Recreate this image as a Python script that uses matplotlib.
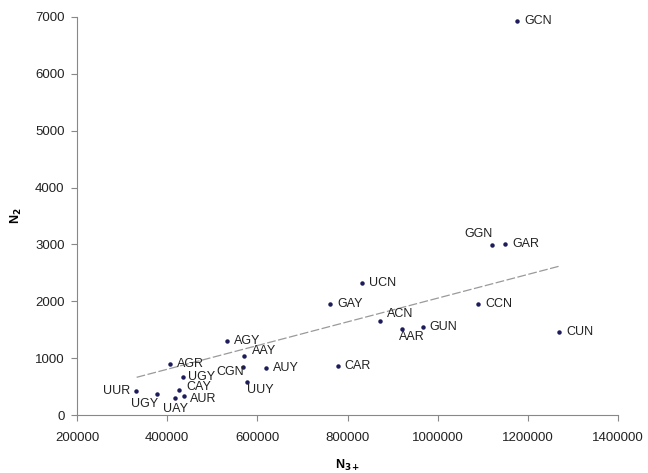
import numpy as np
import matplotlib
matplotlib.use("Agg")
import matplotlib.pyplot as plt
from matplotlib.ticker import FormatStrFormatter

plt.rcParams['font.family'] = ['Liberation Sans', 'DejaVu Sans']

# codon / N3+ / N2 values
codons = ["GCN", "GGN", "GAR", "CCN", "CUN", "UCN", "GAY", "ACN", "AAR", "GUN",
          "CAR", "AGY", "AAY", "AGR", "AUY", "UGY", "CGN", "UUY", "UUR", "UGY",
          "CAY", "UAY", "AUR"]
n3 = [1176000, 1120000, 1149000, 1089000, 1269000, 832000, 761000, 872000, 920000, 966000,
      778000, 532000, 570000, 406000, 618000, 434000, 569000, 576000, 331000, 377000,
      427000, 416000, 437000]
n2 = [6930, 2990, 3008, 1947, 1455, 2317, 1952, 1659, 1513, 1553,
      862, 1302, 1043, 897, 821, 674, 844, 586, 428, 369,
      440, 305, 340]

# trend line as drawn in the figure
trend_x = [332000, 1271000]
trend_y = [663, 2621]

# label offsets (pixels) and alignment, by index
offs = {
    1: (-13, 11, "center"), 16: (1, -5, "right"), 18: (-6, 0, "right"),
    8: (-3, -8, "left"), 17: (0, -8, "left"), 12: (8, 5, "left"),
    7: (7, 7, "left"), 20: (7, 3, "left"), 22: (6, -3, "left"),
    19: (-12, -10, "center"), 21: (1, -11, "center"), 15: (5, 0, "left"),
}

fig = plt.figure(figsize=(6.48, 4.73), dpi=100)
ax = fig.add_axes([0.119, 0.1226, 0.835, 0.8415])

ax.plot(n3, n2, 'o', color='#1c1c5c', markersize=2.2, zorder=3)
ax.plot(trend_x, trend_y, '--', color='#9a9a9a', linewidth=0.9, dashes=(7, 2), zorder=2)

for i, (c, x, y) in enumerate(zip(codons, n3, n2)):
    dx, dy, ha = offs.get(i, (7, 0, "left"))
    ax.annotate(c, (x, y), xytext=(dx, dy), textcoords='offset pixels',
                ha=ha, va='center', fontsize=9, color='#222222')

ax.set_xlim(200000, 1400000)
ax.set_ylim(0, 7000)
ax.set_xticks(np.arange(200000, 1400001, 200000))
ax.set_yticks(np.arange(0, 7001, 1000))
ax.xaxis.set_major_formatter(FormatStrFormatter('%d'))
ax.yaxis.set_major_formatter(FormatStrFormatter('%d'))
ax.tick_params(labelsize=9.5, colors='#222222', color='#888888', length=4, direction='out', pad=5)
ax.tick_params(axis='x', pad=8)
for s in ['top', 'right']:
    ax.spines[s].set_visible(False)
for s in ['left', 'bottom']:
    ax.spines[s].set_color('#888888')

ax.set_xlabel("N$_{\\mathbf{3+}}$", fontsize=9, fontweight='bold', labelpad=10)
ax.set_ylabel("N$_{\\mathbf{2}}$", fontsize=9, fontweight='bold', labelpad=8)

fig.savefig("out.png", dpi=100)
